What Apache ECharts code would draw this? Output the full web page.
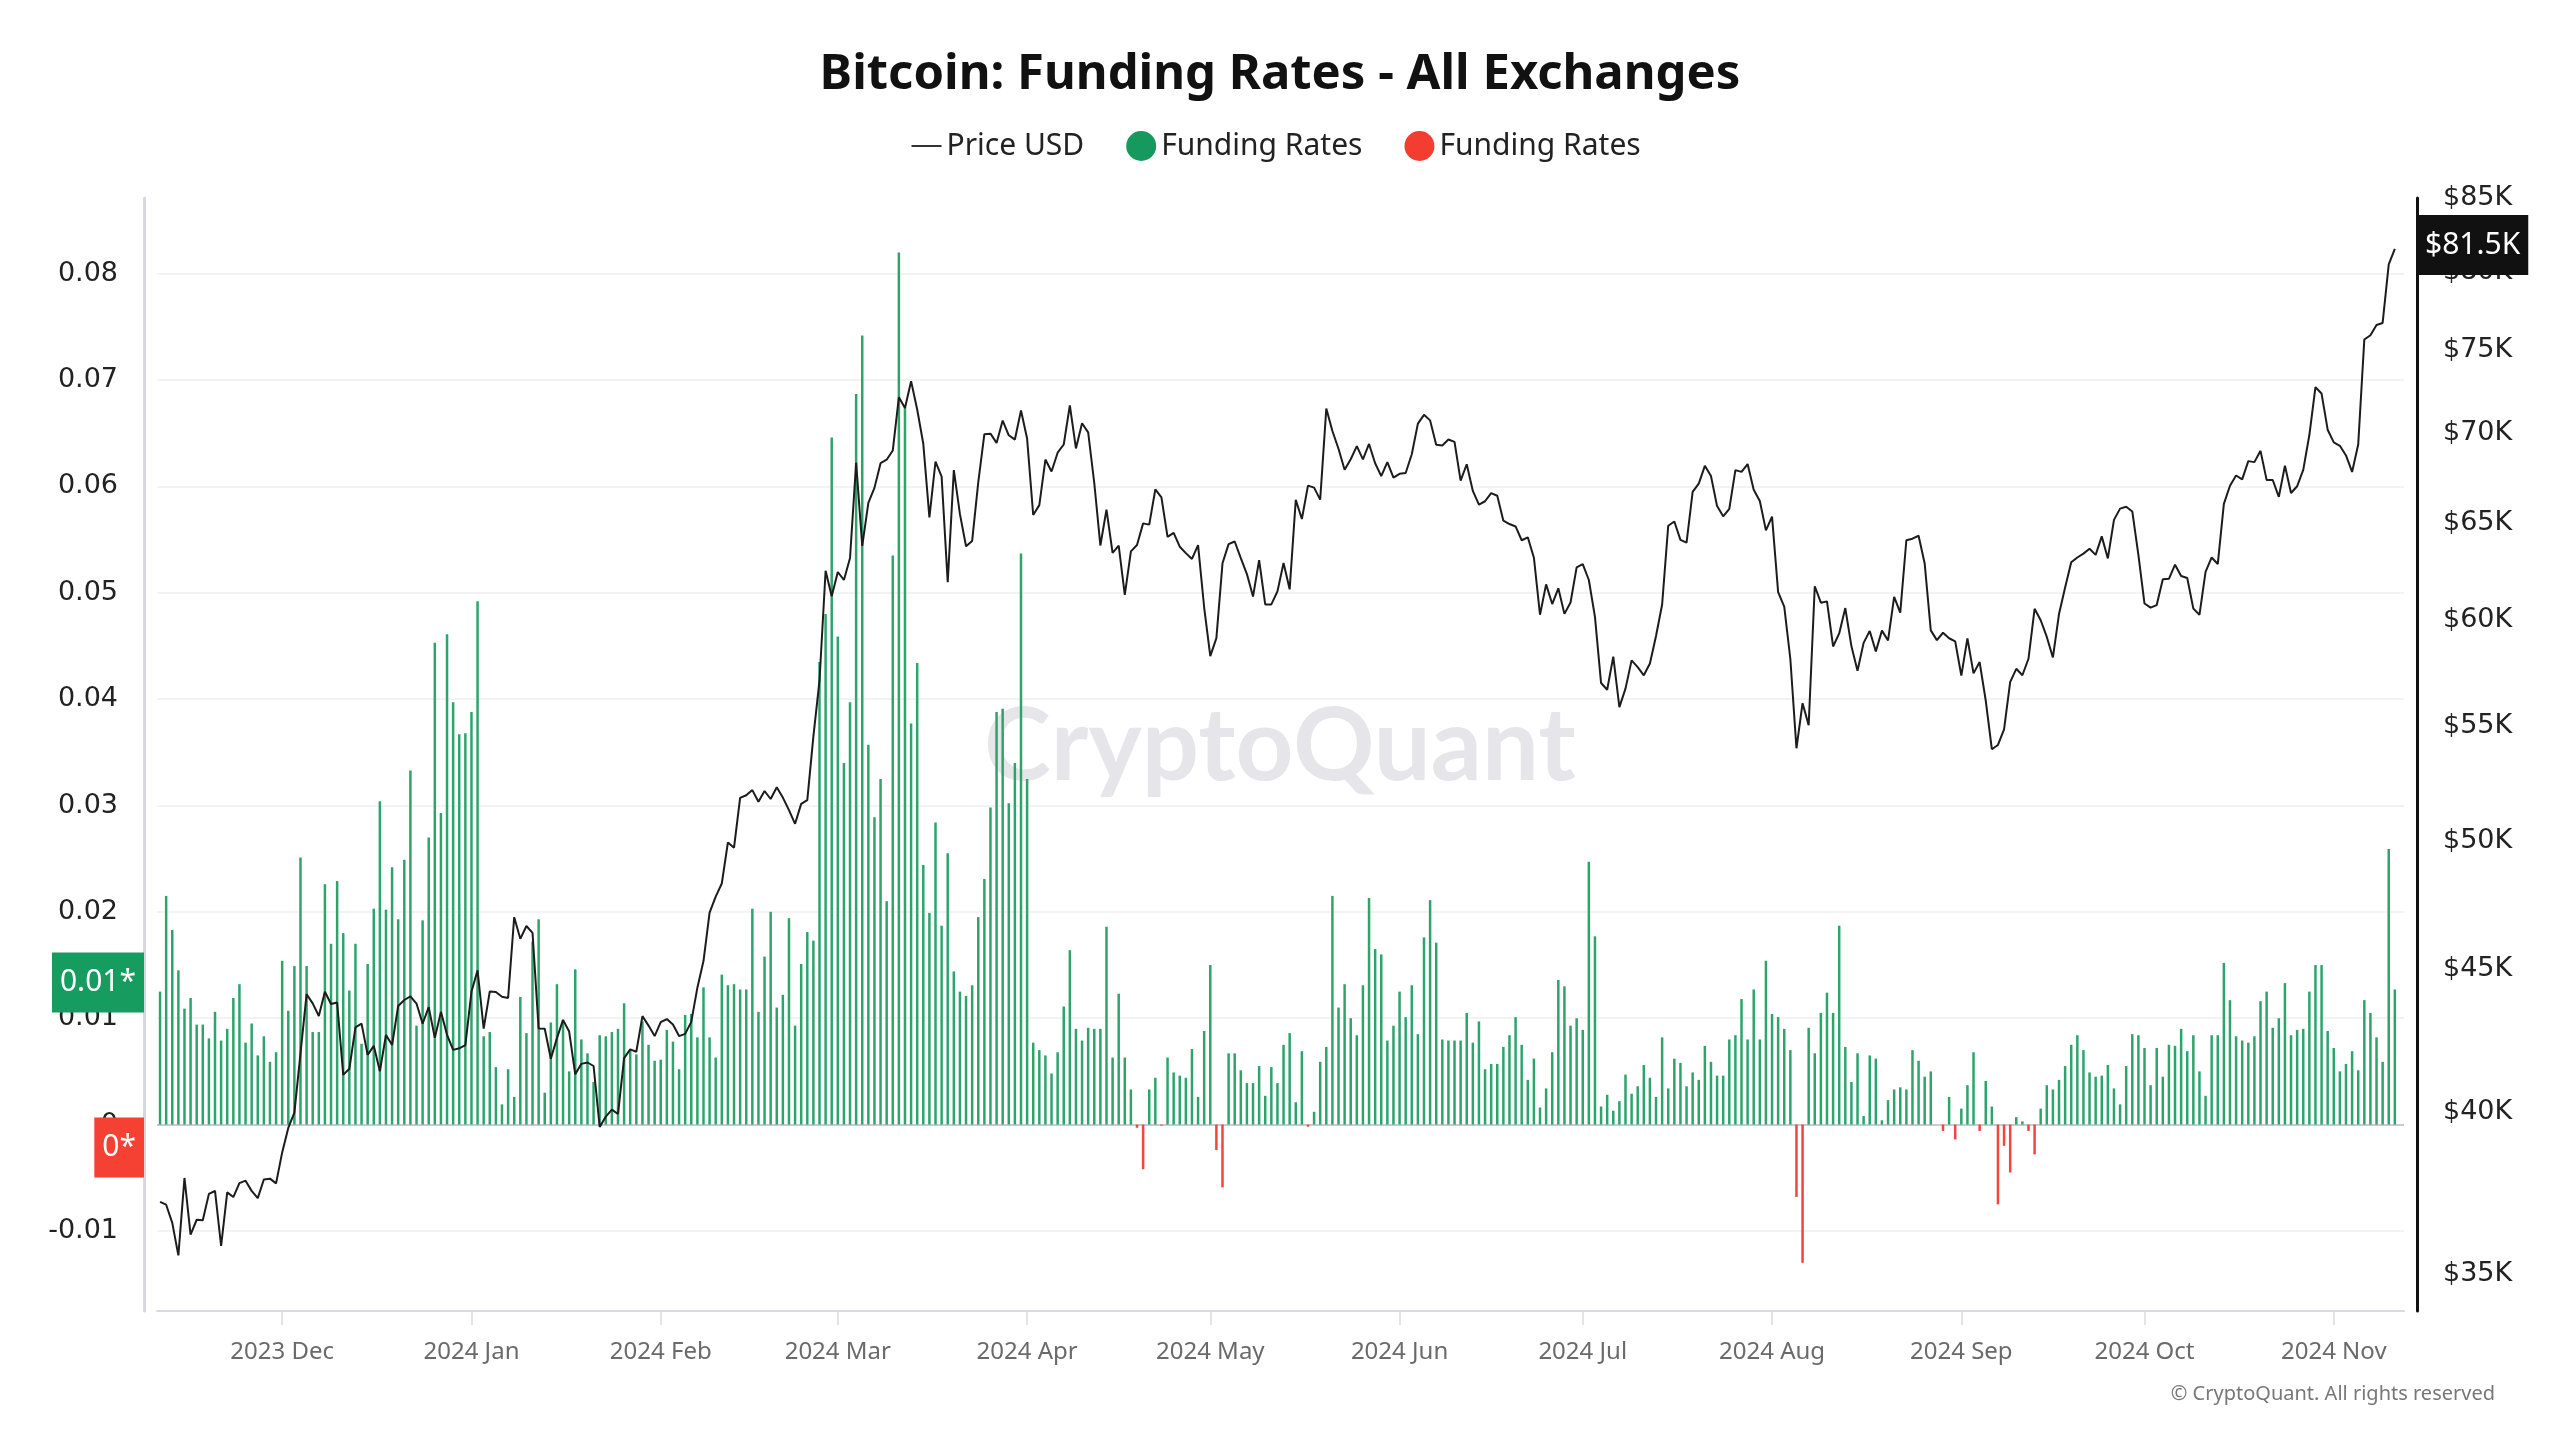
<!DOCTYPE html>
<html>
<head>
<meta charset="utf-8">
<script src="https://cdn.jsdelivr.net/npm/echarts@6/dist/echarts.min.js"></script>
<style>
html,body{margin:0;padding:0;background:#ffffff;}
#chart{width:2560px;height:1440px;}
</style>
</head>
<body>
<div id="chart"></div>
<script>
// ---------- DATA (daily, starting 2023-11-11) ----------
const startDate = [2023, 10, 11]; // year, monthIndex, day

// Price USD (daily close)
const price2023Nov = [37138,37054,36502,35537,37880,36154,36597,36585,37387,37476,35813,37432,37289,37720,37796,37479,37255,37832,37859,37712];
const price2023Dec = [38688,39476,39979,41980,44080,43747,43293,44167,43725,43779,41243,41450,42890,43023,41929,42241,41364,42623,42270,43652,43869,43997,43740,43017,43613,42520,43442,42627,42100,42156,42266];
const price2024Jan = [44168,44958,42848,44179,44162,43989,43943,46970,46139,46628,46369,42853,42842,41796,42511,43155,42742,41262,41618,41665,41545,39507,39846,40077,39934,41816,42120,42035,43288,42952,42582];
const price2024Feb = [43075,43185,42992,42583,42659,43084,44318,45301,47147,47771,48293,49958,49742,51826,51938,52160,51663,52122,51779,52284,51839,51304,50731,51571,51733,54522,57085,62504,61198];
const price2024Mar = [62440,62029,63168,68330,63801,66106,66925,68300,68498,69019,72123,71482,73083,71397,69403,65315,68391,67548,61912,67913,65491,63778,64062,67234,69958,69987,69455,70744,69892,69645,71334];
const price2024Apr = [69702,65446,65980,68508,67837,68896,69362,71632,69139,70587,70060,67195,63821,65738,63427,63811,61276,63513,63843,64994,64927,66837,66407,64276,64485,63755,63419,63114,63842,60637];
const price2024May = [58254,59123,62889,63892,64031,63162,62334,61187,63050,60793,60794,61448,62901,61553,66267,65231,67052,66941,66278,71448,70137,69122,67929,68526,69266,68519,69394,68296,67578,68365,67491];
const price2024Jun = [67706,67751,68804,70567,71082,70757,69342,69305,69648,69512,67332,68241,66757,66011,66191,66639,66491,65140,64960,64829,64096,64252,63180,60277,61804,60811,61604,60320,60887,62678];
const price2024Jul = [62851,62029,60173,56977,56662,58231,55857,56714,58052,57725,57340,57899,59232,60788,64870,65097,64119,63974,66710,67164,68154,67586,65927,65372,65777,67912,67813,68255,66819,66201,64619];
const price2024Aug = [65357,61415,60681,58116,53991,56034,55027,61710,60880,60945,58719,59354,60609,58737,57560,58894,59478,58483,59493,59012,61175,60381,64094,64178,64333,62880,59504,59027,59388,59119,58969];
const price2024Sep = [57325,59112,57431,57971,56160,53948,54139,54841,57019,57648,57343,58127,60571,60005,59182,58192,60309,61649,62940,63192,63394,63649,63329,64301,63144,65181,65790,65888,65635,63329];
const price2024Oct = [60837,60632,60759,62067,62089,62818,62236,62131,60582,60274,62445,63193,62851,66046,67042,67612,67400,68418,68362,69001,67367,67362,66432,68161,66642,67014,67930,69908,72720,72339,70215];
const price2024Nov = [69482,69289,68741,67811,69359,75639,75905,76545,76677,80474,81500];

// Funding Rates (daily, signed)
const funding2023Nov = [0.0125,0.0215,0.0183,0.0145,0.0109,0.0119,0.0094,0.0094,0.0081,0.0106,0.0079,0.0090,0.0119,0.0132,0.0077,0.0095,0.0065,0.0083,0.0059,0.0068];
const funding2023Dec = [0.0154,0.0107,0.0149,0.0251,0.0149,0.0087,0.0087,0.0226,0.0170,0.0229,0.0180,0.0126,0.0170,0.0076,0.0151,0.0203,0.0304,0.0202,0.0242,0.0193,0.0249,0.0333,0.0093,0.0192,0.0270,0.0453,0.0293,0.0461,0.0397,0.0367,0.0368];
const funding2024Jan = [0.0388,0.0492,0.0083,0.0087,0.0054,0.0019,0.0052,0.0026,0.0120,0.0086,0.0172,0.0193,0.0030,0.0096,0.0132,0.0098,0.0050,0.0146,0.0080,0.0067,0.0040,0.0084,0.0083,0.0087,0.0090,0.0114,0.0070,0.0066,0.0097,0.0075,0.0060];
const funding2024Feb = [0.0061,0.0089,0.0078,0.0052,0.0103,0.0104,0.0082,0.0129,0.0082,0.0063,0.0141,0.0131,0.0132,0.0127,0.0127,0.0203,0.0106,0.0158,0.0200,0.0110,0.0122,0.0194,0.0093,0.0151,0.0181,0.0173,0.0435,0.0480,0.0646];
const funding2024Mar = [0.0459,0.0340,0.0397,0.0687,0.0742,0.0357,0.0289,0.0325,0.0210,0.0535,0.0820,0.0674,0.0377,0.0434,0.0244,0.0199,0.0284,0.0187,0.0255,0.0144,0.0125,0.0121,0.0131,0.0195,0.0231,0.0298,0.0388,0.0391,0.0302,0.0340,0.0537];
const funding2024Apr = [0.0325,0.0077,0.0070,0.0065,0.0048,0.0068,0.0111,0.0164,0.0090,0.0079,0.0091,0.0090,0.0090,0.0186,0.0063,0.0123,0.0063,0.0033,-0.0003,-0.0042,0.0033,0.0044,-0.0001,0.0063,0.0049,0.0046,0.0044,0.0071,0.0026,0.0088];
const funding2024May = [0.0150,-0.0024,-0.0059,0.0067,0.0067,0.0051,0.0039,0.0039,0.0055,0.0027,0.0054,0.0039,0.0075,0.0086,0.0021,0.0069,-0.0002,0.0012,0.0059,0.0073,0.0215,0.0110,0.0132,0.0100,0.0084,0.0131,0.0213,0.0165,0.0160,0.0079,0.0093];
const funding2024Jun = [0.0125,0.0101,0.0131,0.0085,0.0176,0.0211,0.0171,0.0080,0.0079,0.0079,0.0079,0.0105,0.0077,0.0097,0.0052,0.0057,0.0057,0.0073,0.0084,0.0101,0.0075,0.0042,0.0062,0.0016,0.0034,0.0068,0.0136,0.0130,0.0093,0.0100];
const funding2024Jul = [0.0089,0.0247,0.0177,0.0017,0.0028,0.0013,0.0022,0.0047,0.0029,0.0036,0.0056,0.0044,0.0026,0.0082,0.0034,0.0062,0.0058,0.0036,0.0049,0.0042,0.0074,0.0059,0.0046,0.0046,0.0080,0.0084,0.0118,0.0080,0.0127,0.0080,0.0154];
const funding2024Aug = [0.0104,0.0101,0.0090,0.0070,-0.0068,-0.0130,0.0091,0.0067,0.0105,0.0124,0.0105,0.0187,0.0073,0.0040,0.0067,0.0008,0.0065,0.0062,0.0004,0.0023,0.0033,0.0035,0.0033,0.0070,0.0060,0.0045,0.0050,0.0000,-0.0006,0.0026,-0.0014];
const funding2024Sep = [0.0015,0.0037,0.0068,-0.0006,0.0041,0.0017,-0.0075,-0.0020,-0.0045,0.0007,0.0003,-0.0006,-0.0028,0.0015,0.0037,0.0033,0.0042,0.0055,0.0075,0.0084,0.0070,0.0049,0.0045,0.0046,0.0056,0.0034,0.0019,0.0055,0.0085,0.0084];
const funding2024Oct = [0.0072,0.0037,0.0072,0.0045,0.0075,0.0074,0.0090,0.0069,0.0084,0.0050,0.0027,0.0084,0.0084,0.0152,0.0117,0.0083,0.0079,0.0077,0.0083,0.0116,0.0125,0.0091,0.0100,0.0133,0.0084,0.0089,0.0090,0.0125,0.0150,0.0150,0.0088];
const funding2024Nov = [0.0072,0.0050,0.0057,0.0069,0.0051,0.0117,0.0105,0.0082,0.0059,0.0259,0.0127];

// Axis tick labels
const fundingTicks = [-0.01, 0, 0.01, 0.02, 0.03, 0.04, 0.05, 0.06, 0.07, 0.08];
const priceTicks = [35000, 40000, 45000, 50000, 55000, 60000, 65000, 70000, 75000, 80000, 85000];
const monthNames = ['Jan','Feb','Mar','Apr','May','Jun','Jul','Aug','Sep','Oct','Nov','Dec'];

// ---------- BUILD ----------
const priceUsd = [].concat(price2023Nov, price2023Dec, price2024Jan, price2024Feb, price2024Mar, price2024Apr,
  price2024May, price2024Jun, price2024Jul, price2024Aug, price2024Sep, price2024Oct, price2024Nov);
const fundingRates = [].concat(funding2023Nov, funding2023Dec, funding2024Jan, funding2024Feb, funding2024Mar, funding2024Apr,
  funding2024May, funding2024Jun, funding2024Jul, funding2024Aug, funding2024Sep, funding2024Oct, funding2024Nov);

const pad = n => (n < 10 ? '0' : '') + n;
const dates = [];
const t0 = Date.UTC(startDate[0], startDate[1], startDate[2]);
for (let i = 0; i < priceUsd.length + 1; i++) {
  const d = new Date(t0 + i * 86400000);
  dates.push(d.getUTCFullYear() + '-' + pad(d.getUTCMonth() + 1) + '-' + pad(d.getUTCDate()));
}
const fundingPos = fundingRates.map(v => (v >= 0 ? v : null));
const fundingNeg = fundingRates.map(v => (v < 0 ? v : null));

const lastPrice = priceUsd[priceUsd.length - 1];
const lastFunding = fundingRates[fundingRates.length - 1];
const lastNeg = lastFunding < 0 ? lastFunding : 0;

const isMonthStart = (i, v) => typeof v === 'string' && v.slice(8) === '01';

const GREEN = '#2ea46d';
const RED = '#f1463b';
const TAG_FONT = 'Noto Sans';
const AXIS_FONT = 'DejaVu Sans';
const HIDDEN_LINE = {color: 'rgba(0,0,0,0)', width: 0};

const tagLabel = (text, bg, position, offset) => ({
  show: true,
  position: position,
  distance: 13,
  offset: offset,
  formatter: text,
  backgroundColor: bg,
  color: '#ffffff',
  fontFamily: TAG_FONT,
  fontSize: 30,
  lineHeight: 30,
  padding: [15, 8]
});

const chart = echarts.init(document.getElementById('chart'), null, {renderer: 'canvas'});

chart.setOption({
  animation: false,
  backgroundColor: '#ffffff',
  title: {
    text: 'Bitcoin: Funding Rates - All Exchanges',
    left: 'center',
    top: 46,
    textStyle: {fontFamily: 'Noto Sans', fontWeight: 'bold', fontSize: 49, color: '#111111'}
  },
  legend: {
    top: 126,
    left: 'center',
    itemWidth: 30,
    itemHeight: 30,
    itemGap: 42,
    selectedMode: false,
    textStyle: {fontFamily: 'Noto Sans', fontSize: 30, color: '#222222'},
    data: [
      {name: 'Price USD', icon: 'path://M0,0 L15,0 L15,1 L0,1 Z', itemStyle: {color: '#333333'}},
      {name: 'Funding Rates', icon: 'circle', itemStyle: {color: '#15995c'}},
      {name: 'Funding Rates ', icon: 'circle', itemStyle: {color: '#f33d30'}}
    ]
  },
  grid: {left: 157, right: 156, top: 198, bottom: 129, containLabel: false},
  xAxis: {
    type: 'category',
    data: dates,
    boundaryGap: true,
    axisLine: {show: true, onZero: false, lineStyle: {color: '#dadae1', width: 2}},
    axisTick: {show: true, alignWithLabel: true, interval: isMonthStart, length: 14, lineStyle: {color: '#dadae1', width: 1.5}},
    axisLabel: {
      interval: isMonthStart,
      margin: 29,
      color: '#6a6a6a',
      fontFamily: 'Noto Sans',
      fontSize: 24,
      formatter: v => v.slice(0, 4) + ' ' + monthNames[parseInt(v.slice(5, 7), 10) - 1]
    },
    splitLine: {show: false}
  },
  yAxis: [
    {
      type: 'value',
      position: 'left',
      offset: 13,
      min: -0.01753,
      max: 0.08712,
      axisLine: {show: true, lineStyle: {color: '#d8d8e2', width: 3}},
      axisTick: {show: false},
      splitLine: {show: false},
      axisLabel: {
        customValues: fundingTicks,
        margin: 26,
        color: '#222222',
        fontFamily: AXIS_FONT,
        fontSize: 27,
        formatter: v => (Math.abs(v) < 1e-9 ? '0' : v.toFixed(2))
      }
    },
    {
      type: 'log',
      logBase: 10,
      position: 'right',
      offset: 13,
      min: 33944,
      max: 85000,
      axisLine: {show: true, lineStyle: {color: '#111111', width: 3}},
      axisTick: {show: false},
      splitLine: {show: false},
      axisLabel: {
        customValues: priceTicks,
        margin: 26,
        color: '#222222',
        fontFamily: AXIS_FONT,
        fontSize: 27,
        formatter: v => '$' + Math.round(v / 1000) + 'K'
      }
    }
  ],
  graphic: [
    {
      type: 'text',
      z: 0,
      left: 'center',
      top: 697,
      style: {
        text: 'CryptoQuant',
        fontFamily: 'Lato',
        fontWeight: 'bold',
        fontSize: 101,
        fill: 'rgba(200,200,208,0.45)'
      }
    },
    {
      type: 'text',
      right: 65,
      top: 1384,
      style: {
        text: '\u00A9 CryptoQuant. All rights reserved',
        fontFamily: 'Noto Sans',
        fontSize: 20,
        fill: '#777777'
      }
    }
  ],
  series: [
    {
      name: 'gridlines',
      type: 'line',
      yAxisIndex: 0,
      data: [],
      silent: true,
      markLine: {
        silent: true,
        z: 1,
        precision: 6,
        symbol: ['none', 'none'],
        label: {show: false},
        lineStyle: {color: '#efeff1', width: 1.5, type: 'solid'},
        data: fundingTicks.filter(v => v !== 0).map(v => ({yAxis: v}))
          .concat([{yAxis: 0, lineStyle: {color: '#c9c9cf', width: 2, type: 'solid'}}])
      }
    },
    {
      name: 'Funding Rates',
      type: 'bar',
      yAxisIndex: 0,
      data: fundingPos,
      barWidth: 2.5,
      barGap: '-100%',
      z: 2,
      itemStyle: {color: GREEN},
      markLine: {
        silent: true,
        z: 20,
        precision: 6,
        symbol: ['none', 'none'],
        lineStyle: HIDDEN_LINE,
        label: tagLabel(lastFunding.toFixed(2).replace(/0+$/, '').replace(/\.$/, '') + '*', '#179c60', 'start', [0, -7]),
        data: [{yAxis: lastFunding}]
      }
    },
    {
      name: 'Funding Rates ',
      type: 'bar',
      yAxisIndex: 0,
      data: fundingNeg,
      barWidth: 2.5,
      barGap: '-100%',
      z: 2,
      itemStyle: {color: RED},
      markLine: {
        silent: true,
        z: 20,
        precision: 6,
        symbol: ['none', 'none'],
        lineStyle: HIDDEN_LINE,
        label: tagLabel(String(lastNeg) + '*', '#f44133', 'start', [0, 23]),
        data: [{yAxis: lastNeg}]
      }
    },
    {
      name: 'Price USD',
      type: 'line',
      yAxisIndex: 1,
      data: priceUsd,
      showSymbol: false,
      symbol: 'none',
      z: 4,
      lineStyle: {color: '#1c1c1c', width: 2},
      itemStyle: {color: '#1c1c1c'},
      markLine: {
        silent: true,
        z: 20,
        precision: 6,
        symbol: ['none', 'none'],
        lineStyle: HIDDEN_LINE,
        label: tagLabel('$' + (lastPrice / 1000).toFixed(1) + 'K', '#111111', 'end', [0, -4]),
        data: [{yAxis: lastPrice}]
      }
    }
  ]
});
</script>
</body>
</html>
